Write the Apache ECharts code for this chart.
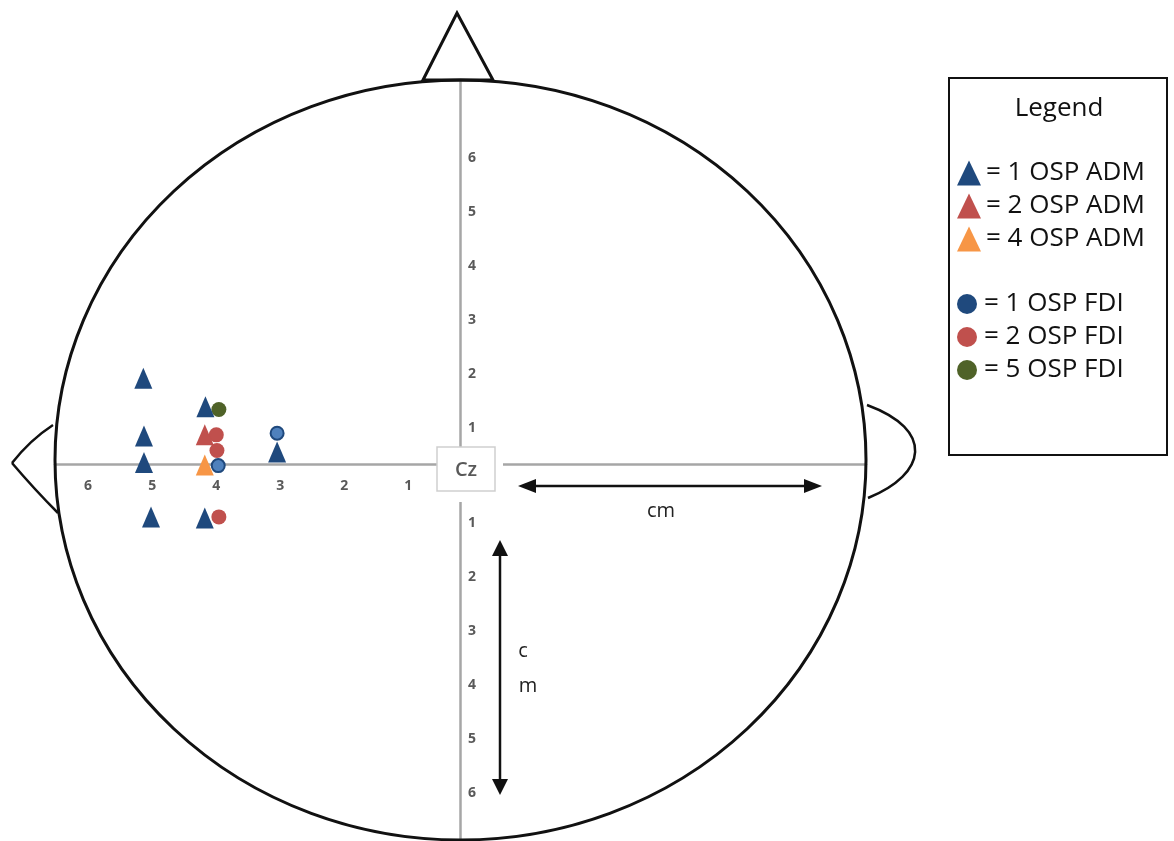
<!DOCTYPE html>
<html>
<head>
<meta charset="utf-8">
<script src="https://cdn.jsdelivr.net/npm/echarts@6/dist/echarts.min.js"></script>
<style>
body{margin:0;background:#fff;}
#main{width:1174px;height:841px;}
</style>
</head>
<body>
<div id="main"></div>
<script>
// positions in cm from Cz (negative x = left, positive y = anterior)
var adm1 = [[-4.95,1.59],[-3.98,1.06],[-4.94,0.52],[-4.94,0.03],[-4.83,-0.98],[-3.99,-1.0],[-2.86,0.22]];
var adm2 = [[-3.99,0.54]];
var adm4 = [[-3.99,-0.02]];
var fdi1 = [[-3.78,-0.03],[-2.86,0.57]];
var fdi2 = [[-3.81,0.54],[-3.8,0.25],[-3.77,-0.98]];
var fdi5 = [[-3.77,1.01]];

var xTicks = [-6,-5,-4,-3,-2,-1];
var yTicks = [-6,-5,-4,-3,-2,-1,1,2,3,4,5,6];

var admNames = ['1 OSP ADM','2 OSP ADM','4 OSP ADM'];
var fdiNames = ['1 OSP FDI','2 OSP FDI','5 OSP FDI'];

var blue='#1f497d', red='#c0504d', orange='#f79646', green='#4f6228';
var font='Open Sans';

var mychart = echarts.init(document.getElementById('main'));

var tickLabel = {color:'#595959', fontSize:14, fontWeight:'bold', fontFamily:font};
var centered = {align:'center', verticalAlign:'middle', textAlign:'center', textVerticalAlign:'middle'};
function txt(x, y, s, size, color){
	return {type:'text', z:52, x:x, y:y,
		style:Object.assign({text:s, fontSize:size, fontFamily:font, fill:color}, centered)};
}

// grid: x -6.33..6.34 over 811px, y -7.1..7.1 over 766.8px -> Cz at (460,464)
var option = {
	animation:false,
	grid:{left:55, top:80.6, width:811, height:766.8, outerBoundsMode:'none', containLabel:false},
	xAxis:{
		type:'value', min:-6.33, max:6.34, position:'bottom', offset:-383.4,
		axisLine:{onZero:false, lineStyle:{color:'#a6a6a6', width:2.5}},
		axisTick:{show:false},
		splitLine:{show:false},
		axisLabel:{
			customValues:xTicks, margin:15,
			formatter:function(v){ return '{a|'+Math.abs(v)+'}'; },
			rich:{a:Object.assign({padding:[0,0,0,24]}, tickLabel)}
		}
	},
	yAxis:{
		type:'value', min:-7.1, max:7.1, position:'left', offset:-405,
		axisLine:{onZero:false, lineStyle:{color:'#a6a6a6', width:2.5}},
		axisTick:{show:false},
		splitLine:{show:false},
		axisLabel:{
			customValues:yTicks, inside:true, margin:8,
			formatter:function(v){ return (v>0 ? '{up|' : '{dn|')+Math.abs(v)+'}'; },
			rich:{
				up:Object.assign({padding:[36,0,0,0]}, tickLabel),
				dn:Object.assign({padding:[10,0,0,0]}, tickLabel)
			}
		}
	},
	legend:[{
		data:admNames, orient:'vertical', left:952, top:155,
		icon:'triangle', itemWidth:24, itemHeight:25, itemGap:7,
		formatter:'= {name}', selectedMode:false,
		textStyle:{fontSize:26, fontFamily:font, color:'#111'}
	},{
		data:[
			{name:fdiNames[0], itemStyle:{color:blue, borderWidth:0}},
			{name:fdiNames[1]},
			{name:fdiNames[2]}
		],
		orient:'vertical', left:952, top:286,
		icon:'circle', itemWidth:24, itemHeight:20, itemGap:7,
		formatter:'= {name}', selectedMode:false,
		textStyle:{fontSize:26, fontFamily:font, color:'#111'}
	}],
	series:[
		{name:fdiNames[0], type:'scatter', symbol:'circle', symbolSize:13, data:fdi1,
			itemStyle:{color:'#4f81bd', borderColor:blue, borderWidth:2, opacity:1}},
		{name:fdiNames[1], type:'scatter', symbol:'circle', symbolSize:15, data:fdi2,
			itemStyle:{color:red, opacity:1}},
		{name:fdiNames[2], type:'scatter', symbol:'circle', symbolSize:15, data:fdi5,
			itemStyle:{color:green, opacity:1}},
		{name:admNames[0], type:'scatter', symbol:'triangle', symbolSize:[18,21], data:adm1,
			itemStyle:{color:blue, opacity:1}},
		{name:admNames[1], type:'scatter', symbol:'triangle', symbolSize:[18,21], data:adm2,
			itemStyle:{color:red, opacity:1}},
		{name:admNames[2], type:'scatter', symbol:'triangle', symbolSize:[18,21], data:adm4,
			itemStyle:{color:orange, opacity:1}}
	],
	graphic:[
		// head outline (circle squashed to an ellipse)
		{type:'circle', z:10, x:460.5, y:460, scaleY:380/405.5, shape:{cx:0, cy:0, r:405.5},
			style:{fill:'none', stroke:'#111', lineWidth:3}},
		// nose
		{type:'polygon', z:10, shape:{points:[[423,80],[457,13],[493,80]]},
			style:{fill:'none', stroke:'#111', lineWidth:3}},
		// ears
		{type:'bezierCurve', z:10, shape:{x1:53, y1:425, cpx1:30, cpy1:440, x2:12, y2:463},
			style:{fill:'none', stroke:'#111', lineWidth:2.5}},
		{type:'bezierCurve', z:10, shape:{x1:12, y1:463, cpx1:35, cpy1:490, x2:58, y2:513},
			style:{fill:'none', stroke:'#111', lineWidth:2.5}},
		{type:'bezierCurve', z:10, shape:{x1:867, y1:405, cpx1:935, cpy1:430, cpx2:927, cpy2:474, x2:868, y2:498},
			style:{fill:'none', stroke:'#111', lineWidth:2.5}},
		// Cz box
		{type:'rect', z:50, shape:{x:437, y:447, width:66, height:55}, style:{fill:'#fff'}},
		{type:'rect', z:51, shape:{x:437, y:447, width:58, height:44},
			style:{fill:'#fff', stroke:'#cfcfcf', lineWidth:1.5}},
		{type:'text', z:52, x:466, y:470,
			style:Object.assign({text:'Cz', fontSize:20, fontFamily:font, fontWeight:600, fill:'#595959'}, centered)},
		// cm arrows
		{type:'line', z:20, shape:{x1:530, y1:486, x2:810, y2:486}, style:{stroke:'#111', lineWidth:2.5}},
		{type:'polygon', z:20, shape:{points:[[518,486],[536,479],[536,493]]}, style:{fill:'#111'}},
		{type:'polygon', z:20, shape:{points:[[822,486],[804,479],[804,493]]}, style:{fill:'#111'}},
		txt(661, 511, 'cm', 20, '#222'),
		{type:'line', z:20, shape:{x1:500, y1:552, x2:500, y2:782}, style:{stroke:'#111', lineWidth:2.5}},
		{type:'polygon', z:20, shape:{points:[[500,540],[492,556],[508,556]]}, style:{fill:'#111'}},
		{type:'polygon', z:20, shape:{points:[[500,795],[492,779],[508,779]]}, style:{fill:'#111'}},
		txt(523, 651, 'c', 20, '#222'),
		txt(528, 686, 'm', 20, '#222'),
		// legend frame
		{type:'rect', z:5, shape:{x:949, y:78, width:218, height:377},
			style:{fill:'none', stroke:'#111', lineWidth:2}},
		txt(1059, 109, 'Legend', 26, '#111')
	]
};
mychart.setOption(option);
</script>
</body>
</html>
